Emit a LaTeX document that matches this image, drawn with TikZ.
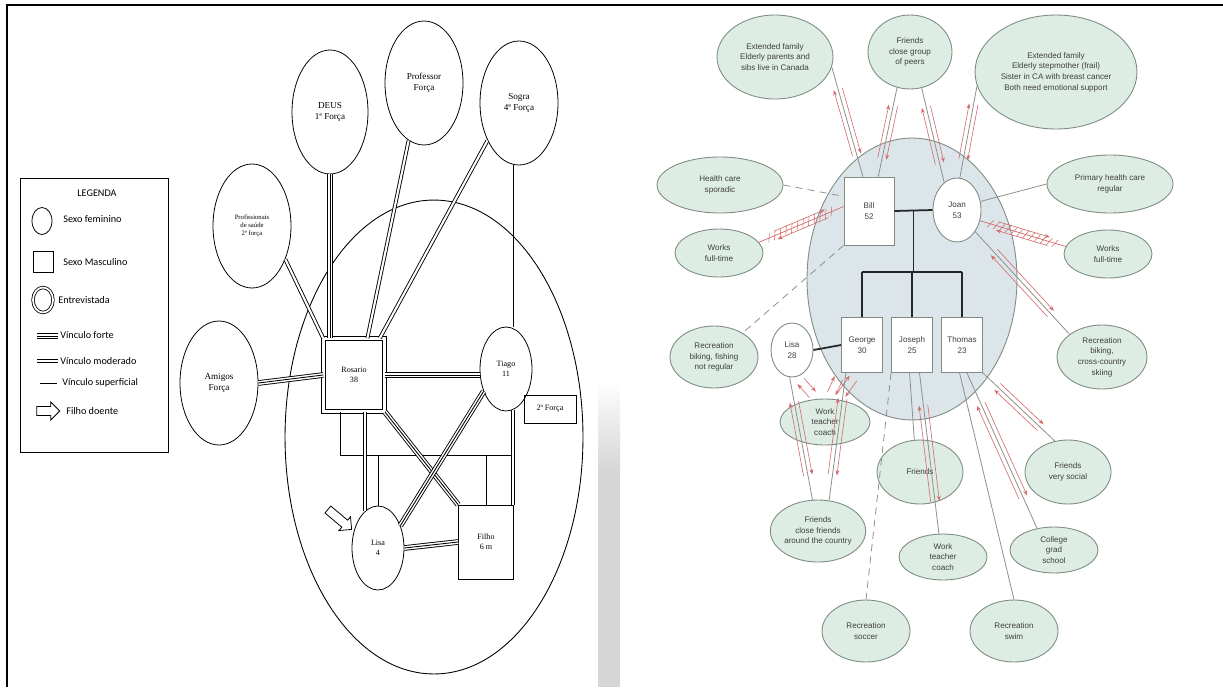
\documentclass[tikz,border=0pt]{standalone}
\usepackage{fontspec}
\setmainfont{Liberation Serif}
\setsansfont{Liberation Sans}
\newfontfamily\legendfont{Carlito}
\usetikzlibrary{calc, shapes.geometric, shapes.arrows, arrows.meta, decorations.markings}
\definecolor{ecofill}{HTML}{DDEDE4}
\definecolor{ecoline}{HTML}{7F8C84}
\definecolor{homefill}{HTML}{DCE6EA}
\definecolor{flowred}{HTML}{D46A6A}
\definecolor{tiegray}{HTML}{8E8E8E}

% two red arrows running both ways beside a tie
\newcommand{\flowpair}[2]{%
  \draw[flow] ($(#1)!.2!(#2)!2.5pt!90:(#2)$) -- ($(#1)!.8!(#2)!2.5pt!90:(#2)$);
  \draw[flow] ($(#2)!.2!(#1)!2.5pt!90:(#1)$) -- ($(#2)!.8!(#1)!2.5pt!90:(#1)$);}
\newcommand{\tieflow}[2]{\draw[tie] (#1) -- (#2); \flowpair{#1}{#2}}

\begin{document}
\begin{tikzpicture}[x=0.02cm, y=-0.02cm,
    every node/.style={inner sep=0pt, align=center},
    bigring/.style={ellipse, draw, line width=.5pt},
    force/.style={ellipse, draw, line width=.45pt, minimum width=1.56cm, minimum height=2.48cm, font=\fontsize{5.2}{6.2}\selectfont},
    kid/.style={ellipse, draw, line width=.45pt, minimum width=1.04cm, minimum height=1.68cm, font=\fontsize{4.6}{5.6}\selectfont},
    boy/.style={rectangle, draw, line width=.45pt, font=\fontsize{4.6}{5.6}\selectfont},
    strong/.style={line width=3.2pt, postaction={draw=white, line width=2.2pt}, postaction={draw=black, line width=.5pt}},
    moderate/.style={line width=2.2pt, postaction={draw=white, line width=1.2pt}},
    weak/.style={line width=.45pt},
    sick/.style={single arrow, draw, line width=.45pt, inner sep=1.8pt, minimum height=.62cm, minimum width=.36cm, single arrow head extend=.07cm},
    key/.style={anchor=west, font=\legendfont\fontsize{5.8}{7}\selectfont},
    home/.style={ellipse, draw=ecoline, fill=homefill, line width=.5pt},
    eco/.style={ellipse, draw=ecoline, fill=ecofill, line width=.5pt, text=black!75, font=\sffamily\fontsize{4.6}{6.1}\selectfont},
    male/.style={rectangle, draw=ecoline, fill=white, line width=.5pt, text=black!75, font=\sffamily\fontsize{4.6}{6.1}\selectfont},
    female/.style={ellipse, draw=ecoline, fill=white, line width=.5pt, text=black!75, font=\sffamily\fontsize{4.6}{6.1}\selectfont},
    kin/.style={line width=1pt, draw=black!85},
    tie/.style={draw=tiegray, line width=.45pt},
    tiedash/.style={tie, dash pattern=on 4pt off 3pt},
    flow/.style={draw=flowred, line width=.35pt, -{Stealth[length=3pt, width=2.2pt]}},
    stress/.style={draw=flowred, line width=.4pt, postaction={decorate},
        decoration={markings, mark=between positions 0.12 and 0.88 step 3.5pt with {\draw[flowred, line width=.3pt] (-1.2pt,-2.4pt) -- (1.2pt,2.4pt);}}}
]
\fill[white] (0,0) rectangle (1223,687);
\useasboundingbox (0,0) rectangle (1223,687);

\shade[top color=white, bottom color=black!16] (598,380) rectangle (620,470);
\fill[black!16] (598,470) rectangle (620,687);
\draw[line width=1.2pt] (7,687) -- (7,5) -- (1223,5);

% legend
\node[draw, line width=.5pt, minimum width=2.96cm, minimum height=5.48cm] (legend) at (94,315) {};
\node[font=\legendfont\fontsize{5.8}{7}\selectfont] (legtitle) at (97,193) {LEGENDA};
\node[ellipse, draw, line width=.45pt, minimum width=.4cm, minimum height=.54cm] (symf) at (42,221) {};
\node[key] at (63,219) {Sexo feminino};
\node[rectangle, draw, line width=.45pt, minimum width=.4cm, minimum height=.42cm] (symm) at (43,262) {};
\node[key] at (63,262) {Sexo Masculino};
\node[ellipse, draw, double, double distance=1pt, line width=.45pt, minimum width=.4cm, minimum height=.5cm] (syme) at (43,300) {};
\node[key] at (58,300) {Entrevistada};
\draw[strong] (37,336) -- (58,336);
\node[key] at (60,335) {Vínculo forte};
\draw[moderate] (37,361) -- (58,361);
\node[key] at (60,361) {Vínculo moderado};
\draw[weak] (40,383) -- (57,383);
\node[key] at (62,383) {Vínculo superficial};
\node[sick, minimum height=.46cm] (symarrow) at (46,411) {};
\node[key] at (66,411) {Filho doente};

% left ecomap
\node[bigring, minimum width=5.96cm, minimum height=9.48cm] (house) at (434,437) {};
\node[force, minimum width=1.52cm] (deus) at (330,112) {DEUS\\1ª Força};
\node[force] (prof) at (424,83) {Professor\\Força};
\node[force] (sogra) at (519,103) {Sogra\\4ª Força};
\node[force, font=\fontsize{3.8}{4.6}\selectfont] (saude) at (252,226) {Profissionais\\de saúde\\2ª força};
\node[force] (amigos) at (219,383) {Amigos\\Força};
\node[boy, double, double distance=1.4pt, minimum width=1.22cm, minimum height=1.46cm] (rosario) at (354,375) {Rosario\\38};
\node[kid] (tiago) at (506,369) {Tiago\\11};
\node[boy, minimum width=1.04cm, minimum height=.56cm] (forca) at (550,409) {2ª Força};
\node[kid] (lisa) at (378,548) {Lisa\\4};
\node[boy, minimum width=1.1cm, minimum height=1.48cm] (filho) at (486,542) {Filho\\6 m};
\node[sick, rotate=-40] (doente) at (338,518) {};

\coordinate (kinL) at (340,455);
\coordinate (kinR) at (513,455);
\draw[weak] (rosario.south -| kinL) -- (kinL) -- (kinR);
\draw[weak] (kinL -| lisa.north) -- (lisa.north);
\draw[weak] (kinL -| filho.north) -- (filho.north);
\draw[moderate] (lisa.110 |- rosario.south) -- (lisa.110);
\draw[moderate] (tiago.-80) -- (tiago.-80 |- filho.north);
\draw[strong] (amigos.east) -- (rosario.west);
\draw[moderate] (saude.-45) -- (rosario.north west);
\draw[strong] (deus.south) -- (deus.south |- rosario.north);
\draw[moderate] (prof.-105) -- (rosario.70);
\draw[moderate] (sogra.-130) -- (rosario.55);
\draw[weak] (sogra.-95) -- (sogra.-95 |- tiago.north);
\draw[strong] (rosario.east) -- (rosario.east -| tiago.west);
\draw[strong] (rosario.south east) -- (filho.north west);
\draw[strong] (tiago.-135) -- (lisa.45);
\draw[strong] (lisa.east) -- (filho.west);

% right ecomap
\node[home, minimum width=4.2cm, minimum height=5.64cm] (fam) at (912,279) {};
\node[eco, minimum width=2.32cm, minimum height=1.68cm] (extL) at (775,57) {Extended family\\Elderly parents and\\sibs live in Canada};
\node[eco, minimum width=1.68cm, minimum height=1.48cm] (peers) at (910,52) {Friends\\close group\\of peers};
\node[eco, minimum width=3.24cm, minimum height=2.28cm] (extR) at (1056,72) {Extended family\\Elderly stepmother (frail)\\Sister in CA with breast cancer\\Both need emotional support};
\node[eco, minimum width=2.52cm, minimum height=1.12cm] (health) at (720,185) {Health care\\sporadic};
\node[eco, minimum width=1.76cm, minimum height=.96cm] (worksL) at (719,253) {Works\\full-time};
\node[eco, minimum width=2.52cm, minimum height=1.16cm] (primary) at (1110,184) {Primary health care\\regular};
\node[eco, minimum width=1.76cm, minimum height=.96cm] (worksR) at (1108,254) {Works\\full-time};
\node[eco, minimum width=1.76cm, minimum height=1.24cm] (recNR) at (714,357) {Recreation\\biking, fishing\\not regular};
\node[eco, minimum width=1.8cm, minimum height=1.28cm] (recSki) at (1102,357) {Recreation\\biking,\\cross-country\\skiing};
\node[eco, minimum width=1.8cm, minimum height=.92cm] (workL) at (825,422) {Work\\teacher\\coach};
\node[eco, minimum width=1.72cm, minimum height=1.28cm] (friendsC) at (920,472) {Friends};
\node[eco, minimum width=1.72cm, minimum height=1.28cm] (social) at (1068,472) {Friends\\very social};
\node[eco, minimum width=1.76cm, minimum height=1.24cm] (country) at (818,531) {Friends\\close friends\\around the country};
\node[eco, minimum width=1.76cm, minimum height=.92cm] (workB) at (943,557) {Work\\teacher\\coach};
\node[eco, minimum width=1.76cm, minimum height=.92cm] (college) at (1054,550) {College\\grad\\school};
\node[eco, minimum width=1.76cm, minimum height=1.24cm] (soccer) at (866,631) {Recreation\\soccer};
\node[eco, minimum width=1.76cm, minimum height=1.24cm] (swim) at (1014,631) {Recreation\\swim};

\node[male, minimum width=1cm, minimum height=1.36cm] (bill) at (869,211) {Bill\\52};
\node[female, minimum width=.96cm, minimum height=1.28cm] (joan) at (957,210) {Joan\\53};
\node[male, minimum width=.82cm, minimum height=1.1cm] (george) at (862,345) {George\\30};
\node[male, minimum width=.82cm, minimum height=1.1cm] (joseph) at (912,345) {Joseph\\25};
\node[male, minimum width=.82cm, minimum height=1.1cm] (thomas) at (962,345) {Thomas\\23};
\node[female, minimum width=.84cm, minimum height=1.08cm] (lisaR) at (792,350) {Lisa\\28};

\coordinate (couple) at ($(bill.east)!.5!(joan.west)$);
\coordinate (sibs) at (913,272);
\draw[kin] (bill.east) -- (joan.west);
\draw[kin] (couple) -- (couple |- sibs);
\draw[kin] (george.north |- sibs) -- (thomas.north |- sibs);
\draw[kin] (george.north |- sibs) -- (george.north);
\draw[kin] (joseph.north |- sibs) -- (joseph.north);
\draw[kin] (thomas.north |- sibs) -- (thomas.north);
\draw[kin] (lisaR.east) -- (george.west);

\tieflow{extL.-10}{bill.100}
\tieflow{peers.-110}{bill.75}
\tieflow{peers.-72}{joan.115}
\tieflow{extR.-170}{joan.85}
\draw[tiedash] (health.east) -- (bill.150);
\draw[stress] (worksL.15) -- (bill.170);
\flowpair{worksL.15}{bill.170}
\draw[tiedash] (bill.south west) -- (recNR.40);
\draw[tie] (joan.20) -- (primary.west);
\draw[stress] (joan.-25) -- (worksR.170);
\flowpair{joan.-25}{worksR.170}
\tieflow{joan.-50}{recSki.145}
\tieflow{thomas.south east}{social.113}
\tieflow{thomas.-80}{college.128}
\draw[tie] (thomas.-95) -- (swim.north);
\draw[tie] (joseph.-95) -- (friendsC.100);
\tieflow{joseph.-75}{workB.100}
\draw[tiedash] (joseph.south west) -- (soccer.north);
\flowpair{george.-100}{workL.60}
\flowpair{george.south west}{workL.80}
\flowpair{lisaR.-80}{workL.110}
\tieflow{lisaR.-95}{country.100}
\tieflow{george.-120}{country.70}
\end{tikzpicture}
\end{document}
